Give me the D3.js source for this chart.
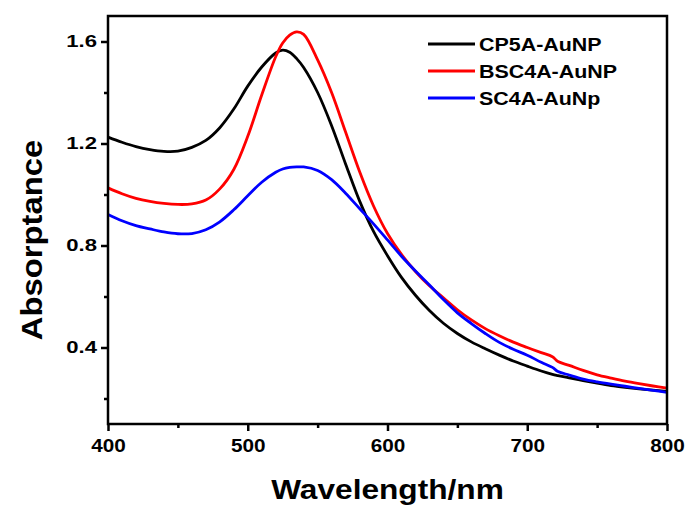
<!DOCTYPE html>
<html>
<head>
<meta charset="utf-8">
<script src="https://cdn.jsdelivr.net/npm/d3@7"></script>
<style>
  html, body { margin: 0; padding: 0; background: #fff; }
  svg { display: block; }
  text { font-family: "Liberation Sans", Arial, sans-serif; font-weight: bold; fill: #000; }
</style>
</head>
<body>
<svg id="chart" width="689" height="511"></svg>
<script>
const wavelengths = [400,410,420,430,440,450,460,470,480,490,500,510,520,525,530,535,540,550,560,570,580,590,600,610,620,630,640,650,660,670,680,690,700,710,718,722,730,740,750,760,770,780,790,800];
const cp5a  = [1.225,1.205,1.188,1.176,1.169,1.170,1.185,1.212,1.262,1.335,1.425,1.50,1.555,1.566,1.558,1.533,1.498,1.40,1.27,1.12,0.975,0.855,0.76,0.675,0.605,0.545,0.495,0.455,0.422,0.395,0.37,0.347,0.327,0.308,0.295,0.29,0.281,0.27,0.26,0.251,0.244,0.238,0.233,0.228];
const bsc4a = [1.026,1.003,0.985,0.973,0.965,0.961,0.963,0.978,1.022,1.098,1.228,1.39,1.54,1.594,1.625,1.638,1.628,1.528,1.40,1.245,1.09,0.955,0.847,0.765,0.698,0.642,0.595,0.548,0.508,0.474,0.446,0.421,0.40,0.38,0.364,0.345,0.33,0.31,0.293,0.28,0.268,0.258,0.249,0.241];
const sc4a  = [0.922,0.897,0.878,0.865,0.853,0.846,0.847,0.862,0.893,0.94,0.995,1.048,1.087,1.10,1.106,1.108,1.108,1.094,1.058,1.005,0.945,0.885,0.822,0.758,0.70,0.645,0.588,0.536,0.494,0.455,0.42,0.393,0.37,0.342,0.322,0.306,0.292,0.276,0.265,0.256,0.248,0.24,0.232,0.224];
const seriesNames = ["CP5A-AuNP","BSC4A-AuNP","SC4A-AuNp"];
const seriesColors = ["#000000","#ff0000","#0000ff"];
const xTicks = [400,500,600,700,800];
const xMinorTicks = [450,550,650,750];
const yTicks = [0.4,0.8,1.2,1.6];
const yMinorTicks = [0.2,0.6,1.0,1.4];
const xTitle = "Wavelength/nm";
const yTitle = "Absorptance";

const svg = d3.select("#chart");
const L = 108, R = 667, T = 16, B = 424;
const x = d3.scaleLinear().domain([400, 800]).range([L, R]);
const y = d3.scaleLinear().domain([0.1, 1.7]).range([B, T]);

const series = [cp5a, bsc4a, sc4a];
const line = d3.line().x(d => x(d[0])).y(d => y(d[1])).curve(d3.curveCatmullRom.alpha(0.5));

const plot = svg.append("g");
series.forEach((s, i) => {
  plot.append("path")
    .datum(wavelengths.map((w, j) => [w, s[j]]))
    .attr("fill", "none")
    .attr("stroke", seriesColors[i])
    .attr("stroke-width", 2.8)
    .attr("stroke-linejoin", "round")
    .attr("d", line);
});

function stretch(sel, factor) {
  sel.each(function () {
    const w = this.getComputedTextLength();
    d3.select(this).attr("textLength", w * factor).attr("lengthAdjust", "spacingAndGlyphs");
  });
}

// axes
const xAxis = svg.append("g").attr("transform", `translate(0,${B})`)
  .call(d3.axisBottom(x).tickValues(xTicks).tickFormat(d3.format("d")).tickSize(7).tickPadding(8));
const xMinor = svg.append("g").attr("transform", `translate(0,${B})`)
  .call(d3.axisBottom(x).tickValues(xMinorTicks).tickFormat("").tickSize(4));
const yAxis = svg.append("g").attr("transform", `translate(${L},0)`)
  .call(d3.axisLeft(y).tickValues(yTicks).tickFormat(d3.format(".1f")).tickSize(7).tickPadding(4));
const yMinor = svg.append("g").attr("transform", `translate(${L},0)`)
  .call(d3.axisLeft(y).tickValues(yMinorTicks).tickFormat("").tickSize(4));
[xAxis, xMinor, yAxis, yMinor].forEach(g => {
  g.select(".domain").remove();
  g.selectAll(".tick line").attr("stroke", "#000").attr("stroke-width", 2.5);
  g.selectAll(".tick text").style("font-size", "17px").style("font-weight", "bold").attr("fill", "#000");
});
xAxis.selectAll(".tick text").style("font-size", "18.5px");
stretch(xAxis.selectAll(".tick text"), 1.12);
stretch(yAxis.selectAll(".tick text"), 1.3);

// frame
svg.append("rect").attr("x", L).attr("y", T).attr("width", R - L).attr("height", B - T)
  .attr("fill", "none").attr("stroke", "#000").attr("stroke-width", 2.5);

// titles
const xt = svg.append("text").attr("x", 387.5).attr("y", 498.5).attr("text-anchor", "middle")
  .style("font-size", "28px").text(xTitle);
stretch(xt, 1.13);
const yt = svg.append("text").attr("transform", `translate(42,240) rotate(-90)`)
  .attr("text-anchor", "middle").style("font-size", "29px").text(yTitle);
stretch(yt, 1.13);

// legend
const legend = svg.append("g");
seriesNames.forEach((n, i) => {
  const ly = 44 + i * 27;
  legend.append("line").attr("x1", 428).attr("x2", 475).attr("y1", ly).attr("y2", ly)
    .attr("stroke", seriesColors[i]).attr("stroke-width", 2.8);
  const t = legend.append("text").attr("x", 479).attr("y", ly + 6.5).style("font-size", "18px").text(n);
  stretch(t, 1.19);
});
</script>
</body>
</html>
